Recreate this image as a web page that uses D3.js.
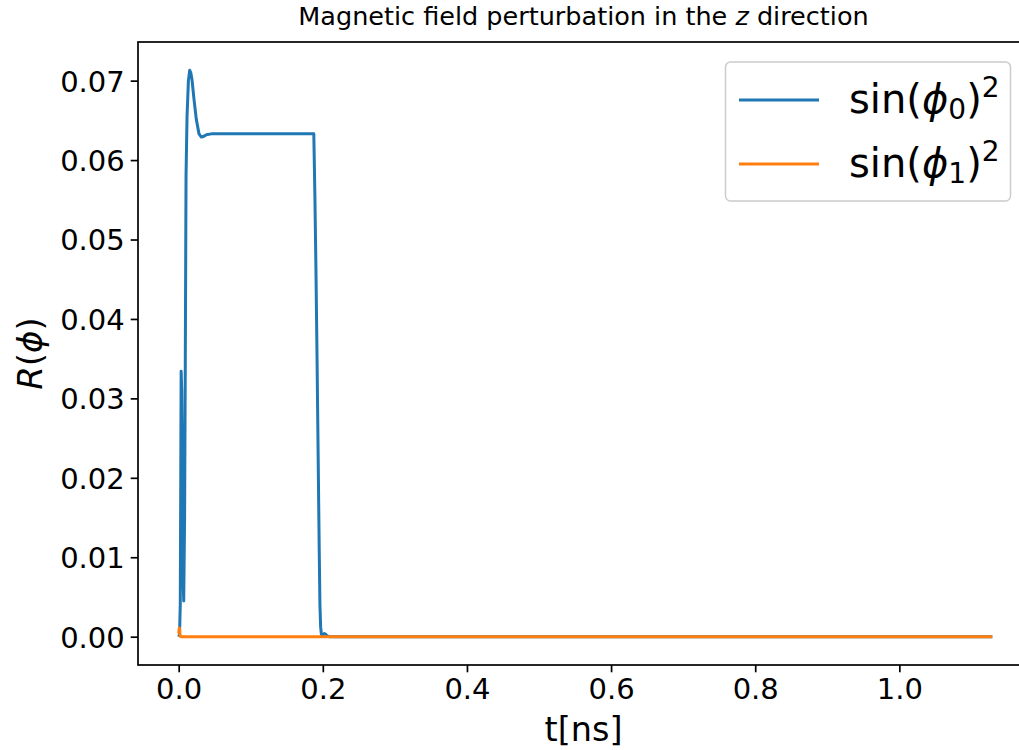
<!DOCTYPE html>
<html>
<head>
<meta charset="utf-8">
<script src="https://cdn.jsdelivr.net/npm/d3@7"></script>
<style>
  html, body { margin: 0; padding: 0; background: #fff; }
  svg text { font-family: "DejaVu Sans", sans-serif; fill: #000; }
</style>
</head>
<body>
<svg id="chart" width="1019" height="750"></svg>
<script>
// Time samples (ns) and sin(phi_0)^2 response
const t0 = [0, 0.0012, 0.0022, 0.0028, 0.0034, 0.0042, 0.0052, 0.0062, 0.007,
  0.0082, 0.0092, 0.0102, 0.0116, 0.0135, 0.0153, 0.0168, 0.0185, 0.0213, 0.0245,
  0.0282, 0.0315, 0.035, 0.0384, 0.0454, 0.06, 0.1, 0.15, 0.1875, 0.189, 0.1905,
  0.192, 0.1935, 0.195, 0.196, 0.197, 0.198, 0.2, 0.202, 0.204, 0.206, 0.21,
  0.4, 0.8, 1.129];
const sin0 = [0, 0.0003, 0.004, 0.018, 0.0334, 0.031, 0.020, 0.007, 0.0045,
  0.015, 0.035, 0.058, 0.0655, 0.0700, 0.0713, 0.0710, 0.0701, 0.0676, 0.0651,
  0.0633, 0.0629, 0.0630, 0.0632, 0.0633, 0.0633, 0.0633, 0.0633, 0.0633, 0.0555, 0.0460,
  0.0350, 0.0230, 0.0110, 0.0040, 0.0012, 0.0003, 0.0002, 0.0004, 0.0003, 0.0001, 0,
  0, 0, 0];

// Time samples (ns) and sin(phi_1)^2 response
const t1 = [0, 0.0005, 0.001, 0.0015, 0.002, 0.003, 0.5, 1.129];
const sin1 = [0.0004, 0.0009, 0.0011, 0.0006, 0.0001, 0, 0, 0];

const xTicks = [0.0, 0.2, 0.4, 0.6, 0.8, 1.0];
const yTicks = [0.00, 0.01, 0.02, 0.03, 0.04, 0.05, 0.06, 0.07];

const colors = ["#1f77b4", "#ff7f0e"];

const svg = d3.select("#chart");
const plot = { left: 138, right: 1033, top: 42, bottom: 665 };

// Data limits with a 5% margin on each side
const tMin = Math.min(d3.min(t0), d3.min(t1)), tMax = Math.max(d3.max(t0), d3.max(t1));
const vMin = Math.min(d3.min(sin0), d3.min(sin1)), vMax = Math.max(d3.max(sin0), d3.max(sin1));
const tPad = (tMax - tMin) * 0.05, vPad = (vMax - vMin) * 0.05;

const x = d3.scaleLinear().domain([tMin - tPad, tMax + tPad]).range([plot.left, plot.right]);
const y = d3.scaleLinear().domain([vMin - vPad, vMax + vPad]).range([plot.bottom, plot.top]);

svg.append("defs").append("clipPath").attr("id", "plotClip")
  .append("rect")
  .attr("x", plot.left).attr("y", plot.top)
  .attr("width", plot.right - plot.left).attr("height", plot.bottom - plot.top);

// Series lines
const line = d3.line().x(d => x(d[0])).y(d => y(d[1]));
const series = [d3.zip(t0, sin0), d3.zip(t1, sin1)];
const lines = svg.append("g").attr("clip-path", "url(#plotClip)");
series.forEach((s, i) => {
  lines.append("path")
    .datum(s)
    .attr("d", line)
    .attr("fill", "none")
    .attr("stroke", colors[i])
    .attr("stroke-width", 3)
    .attr("stroke-linejoin", "round")
    .attr("stroke-linecap", "butt");
});

// Axes
const xAxis = d3.axisBottom(x).tickValues(xTicks).tickFormat(d3.format(".1f"))
  .tickSize(7.3).tickPadding(5);
const yAxis = d3.axisLeft(y).tickValues(yTicks).tickFormat(d3.format(".2f"))
  .tickSize(7.3).tickPadding(6);

const gx = svg.append("g").attr("transform", `translate(0,${plot.bottom})`).call(xAxis);
const gy = svg.append("g").attr("transform", `translate(${plot.left},0)`).call(yAxis);
[gx, gy].forEach(g => {
  g.select(".domain").remove();
  g.selectAll(".tick line").attr("stroke", "#000").attr("stroke-width", 1.7);
  g.selectAll(".tick text").attr("font-size", 29).attr("font-family", "DejaVu Sans").attr("fill", "#000");
});
gy.selectAll(".tick text").attr("dy", "0.36em");
gx.selectAll(".tick text").attr("dy", "0.74em");

// Spines
const spine = svg.append("g").attr("stroke", "#000").attr("stroke-width", 1.7).attr("fill", "none");
spine.append("rect")
  .attr("x", plot.left).attr("y", plot.top)
  .attr("width", plot.right - plot.left).attr("height", plot.bottom - plot.top);

// Title
const title = svg.append("text")
  .attr("x", (plot.left + plot.right) / 2 - 2).attr("y", 25)
  .attr("text-anchor", "middle").attr("font-size", 25.5);
title.append("tspan").text("Magnetic field perturbation in the ");
title.append("tspan").attr("font-style", "italic").text("z");
title.append("tspan").text(" direction");

// Axis labels
svg.append("text")
  .attr("x", (plot.left + plot.right) / 2 - 2).attr("y", 741)
  .attr("text-anchor", "middle").attr("font-size", 33.5)
  .text("t[ns]");

const yl = svg.append("text")
  .attr("transform", `translate(42,${(plot.top + plot.bottom) / 2}) rotate(-90)`)
  .attr("text-anchor", "middle").attr("font-size", 34);
yl.append("tspan").attr("font-style", "italic").text("R");
yl.append("tspan").text("(");
yl.append("tspan").attr("font-style", "italic").text("ϕ");
yl.append("tspan").text(")");

// Legend
const legend = svg.append("g");
legend.append("rect")
  .attr("x", 725.5).attr("y", 62).attr("width", 285).attr("height", 139)
  .attr("rx", 5).attr("ry", 5)
  .attr("fill", "#fff").attr("fill-opacity", 0.8)
  .attr("stroke", "#cccccc").attr("stroke-width", 1.5);

const subs = ["0", "1"];
subs.forEach((sub, i) => {
  const cy = 100 + i * 64;
  legend.append("line")
    .attr("x1", 739).attr("x2", 819).attr("y1", cy).attr("y2", cy)
    .attr("stroke", colors[i]).attr("stroke-width", 3);
  const lt = legend.append("text")
    .attr("x", 849).attr("y", cy + 13).attr("font-size", 40);
  lt.append("tspan").text("sin(");
  lt.append("tspan").attr("font-style", "italic").text("ϕ");
  lt.append("tspan").attr("font-size", 28).attr("dy", 6).text(sub);
  lt.append("tspan").attr("dy", -6).text(")");
  lt.append("tspan").attr("font-size", 28).attr("dy", -16).text("2");
});
</script>
</body>
</html>
